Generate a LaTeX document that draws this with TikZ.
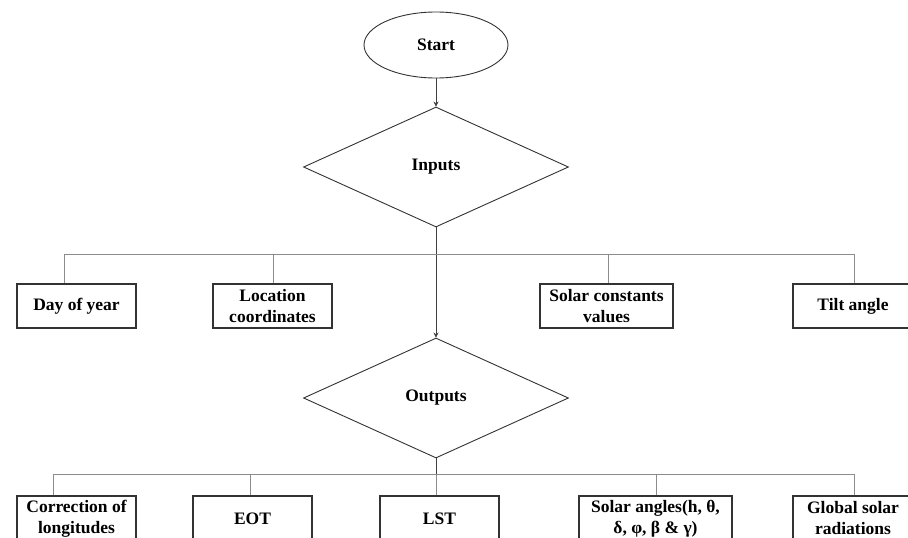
\documentclass[tikz,border=0pt]{standalone}
\usepackage{fontspec}
\setmainfont{Liberation Serif}
\usetikzlibrary{shapes.geometric,arrows.meta}
\begin{document}
\begin{tikzpicture}[x=1pt,y=-1pt,
  every node/.style={font=\fontsize{17.5}{21}\selectfont\bfseries},
  boxnode/.style={draw=black!80,line width=1.1pt,rectangle,minimum height=44pt,inner sep=0pt,align=center},
  decision/.style={draw=black!80,line width=0.9pt,diamond,minimum width=265pt,minimum height=120pt,inner sep=0pt},
  flow/.style={draw=black!75,line width=0.7pt,-{Stealth[length=5pt,width=5pt]}},
  trunk/.style={draw=black!75,line width=0.7pt},
  branch/.style={draw=black!45,line width=1pt}]
\clip (0,0) rectangle (908,538);
\fill[white] (0,0) rectangle (908,538);

\node[draw=black!80,line width=0.9pt,ellipse,minimum width=144pt,minimum height=66pt,inner sep=0pt] (start) at (436,45) {Start};
\node[decision] (inputs) at (436,167) {Inputs};
\node[decision] (outputs) at (436,398) {Outputs};

\node[boxnode,minimum width=119pt] (day) at (76.5,306) {Day of year};
\node[boxnode,minimum width=119pt] (loc) at (272.5,306) {Location\\coordinates};
\node[boxnode,minimum width=133pt] (sol) at (606.5,306) {Solar constants\\values};
\node[boxnode,minimum width=120pt] (tilt) at (853,306) {Tilt angle};

\node[boxnode,minimum width=119pt,minimum height=45pt] (cor) at (76.5,518.5) {Correction of\\longitudes};
\node[boxnode,minimum width=119pt,minimum height=45pt] (eot) at (252.5,518.5) {EOT};
\node[boxnode,minimum width=119pt,minimum height=45pt] (lst) at (439.5,518.5) {LST};
\node[boxnode,minimum width=153pt,minimum height=45pt] (ang) at (655.5,518.5) {Solar angles(h, θ,\\δ, φ, β \& γ)};
\node[boxnode,minimum width=120pt,minimum height=45pt] (glob) at (853,518.5) {Global solar\\radiations};

\coordinate (j1) at (436,254);
\coordinate (j1l) at (64,254);
\coordinate (j1b) at (273,254);
\coordinate (j1c) at (608,254);
\coordinate (j1r) at (854,254);
\coordinate (j2) at (436,474);
\coordinate (j2l) at (53,474);
\coordinate (j2b) at (250,474);
\coordinate (j2d) at (656,474);
\coordinate (j2r) at (854,474);

\draw[flow] (start.south) -- (inputs.north);
\draw[trunk] (inputs.south) -- (j1);
\draw[flow] (j1) -- (outputs.north);
\draw[branch] (j1l) -- (j1r);
\draw[branch] (j1l) -- (day.north -| j1l);
\draw[branch] (j1b) -- (loc.north -| j1b);
\draw[branch] (j1c) -- (sol.north -| j1c);
\draw[branch] (j1r) -- (tilt.north -| j1r);

\draw[trunk] (outputs.south) -- (j2);
\draw[branch] (j2l) -- (j2r);
\draw[branch] (j2l) -- (cor.north -| j2l);
\draw[branch] (j2b) -- (eot.north -| j2b);
\draw[branch] (j2) -- (lst.north -| j2);
\draw[branch] (j2d) -- (ang.north -| j2d);
\draw[branch] (j2r) -- (glob.north -| j2r);
\end{tikzpicture}
\end{document}
